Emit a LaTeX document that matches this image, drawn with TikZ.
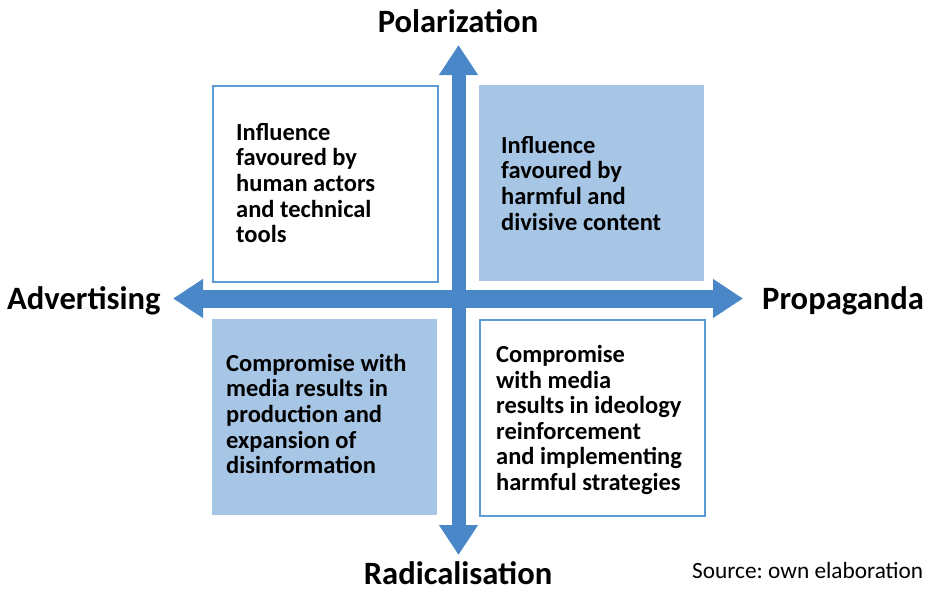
\documentclass[tikz,border=0pt]{standalone}
\usepackage{fontspec}
\setmainfont{Carlito}
\usetikzlibrary{arrows.meta}

\definecolor{axisblue}{RGB}{74,135,201}
\definecolor{paleblue}{RGB}{167,197,228}
\definecolor{edgeblue}{RGB}{91,155,213}

\tikzset{
  plain box/.style={draw=edgeblue, line width=2pt, fill=white, anchor=north west,
    minimum width=225pt, minimum height=196pt, inner sep=0pt},
  filled box/.style={fill=paleblue, anchor=north west,
    minimum width=225pt, minimum height=196pt, inner sep=0pt},
  cell text/.style={anchor=north west, align=left, inner sep=0pt,
    font=\bfseries\fontsize{24.5}{25.6}\selectfont},
  pole/.style={inner sep=0pt, font=\bfseries\fontsize{32.6}{36}\selectfont},
  axis arrow/.style={draw=axisblue, line width=#1,
    {Triangle[length=30pt,width=37pt]}-{Triangle[length=30pt,width=37pt]}},
}

\begin{document}
\begin{tikzpicture}[x=1pt,y=-1pt]
  \useasboundingbox (0,0) rectangle (931,592);

  % the four quadrants
  \node[plain box]  (tl) at (212,85)  {};
  \node[filled box] (tr) at (479,85)  {};
  \node[filled box] (bl) at (212,319) {};
  \node[plain box]  (br) at (479,319) {};

  \node[cell text] (tltext) at (236,123) {Influence\\favoured by\\human actors\\and technical\\tools};
  \node[cell text] (trtext) at (501,136) {Influence\\favoured by\\harmful and\\divisive content};
  \node[cell text] (bltext) at (226,354) {Compromise with\\media results in\\production and\\expansion of\\disinformation};
  \node[cell text] (brtext) at (496,345) {Compromise\\with media\\results in ideology\\reinforcement\\and implementing\\harmful strategies};

  % axes
  \coordinate (west)  at (173,298.5);
  \coordinate (east)  at (743,298.5);
  \coordinate (north) at (458.5,45);
  \coordinate (south) at (458.5,555);
  \draw[axis arrow=18pt] (west) -- (east);
  \draw[axis arrow=14pt] (south) -- (north);

  % axis labels
  \node[pole, anchor=base]      (polar)   at (458,32)  {Polarization};
  \node[pole, anchor=base]      (radical) at (458,584) {Radicalisation};
  \node[pole, anchor=base west] (advert)  at (7,309)   {Advertising};
  \node[pole, anchor=base west] (propa)   at (762,309) {Propaganda};

  \node[inner sep=0pt, anchor=base west, font=\fontsize{23.3}{26}\selectfont\frenchspacing] (source) at (692,578) {Source: own elaboration};
\end{tikzpicture}
\end{document}
